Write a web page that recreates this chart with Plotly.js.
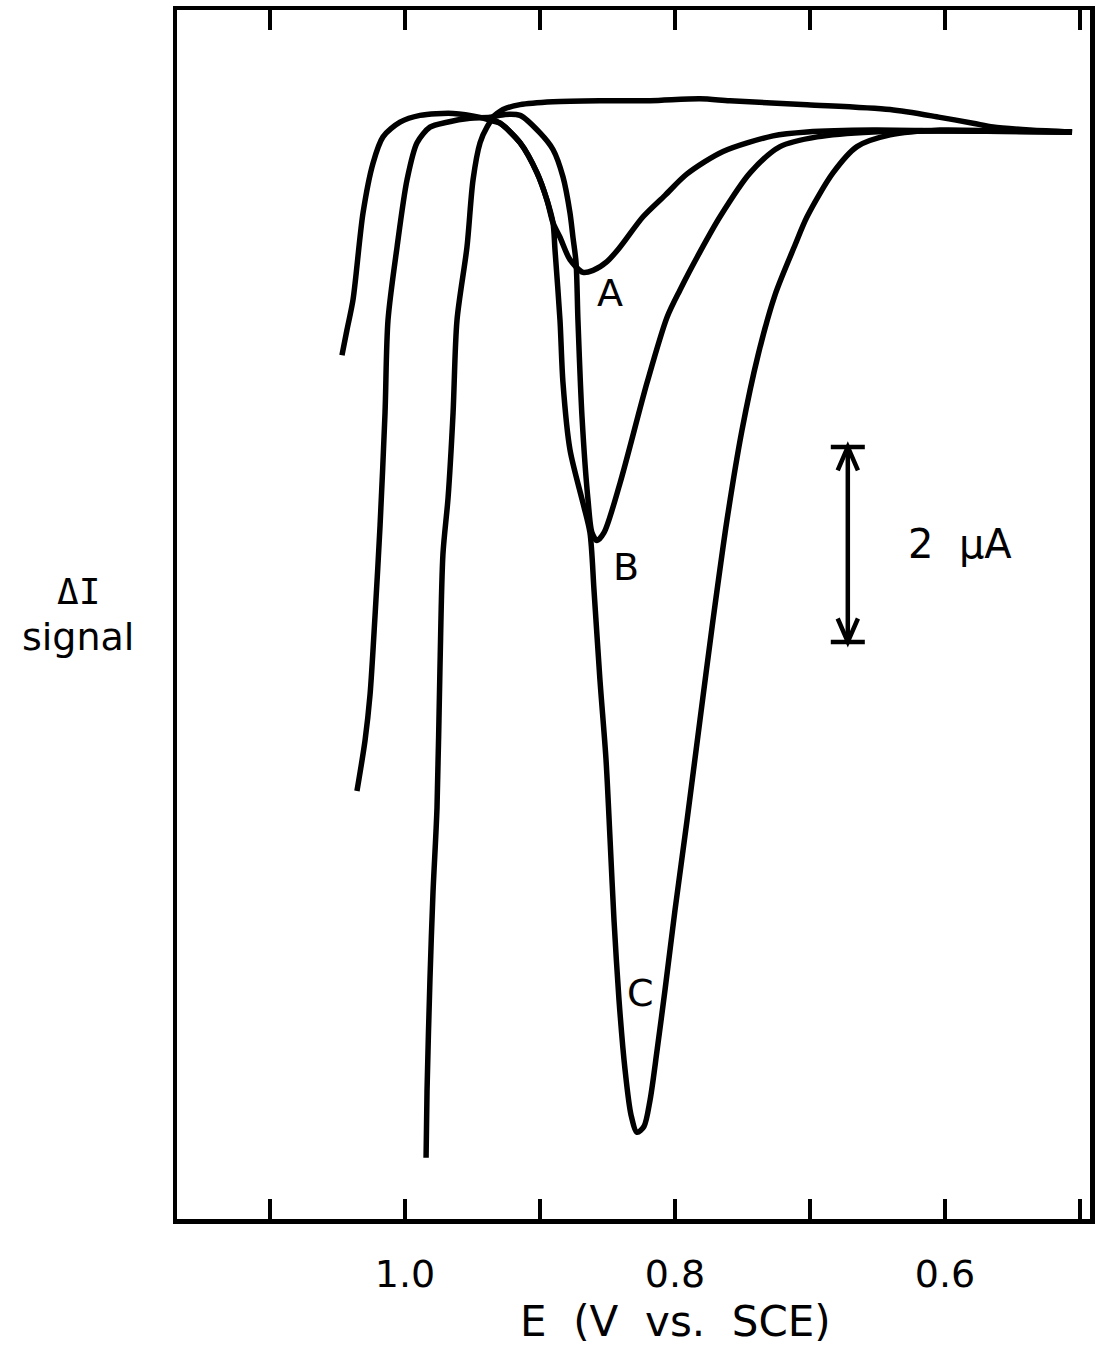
<!DOCTYPE html>
<html>
<head>
<meta charset="utf-8">
<script src="https://cdn.plot.ly/plotly-3.0.1.min.js"></script>
<style>
  html, body { margin: 0; padding: 0; background: #ffffff; }
  #plot { width: 1106px; height: 1349px; }
</style>
</head>
<body>
<div id="plot"></div>
<script>
// Differential pulse voltammograms: potential E (V vs. SCE) against the ΔI signal (µA).

// Curve A
const potentialA = [1.0467, 1.0430, 1.0385, 1.0311, 1.0237, 1.0163, 1.0037, 0.9889, 0.9644, 0.9444,
  0.9370, 0.9296, 0.9148, 0.9022, 0.8948, 0.8904, 0.8852, 0.8778, 0.8681, 0.8607,
  0.8504, 0.8407, 0.8237, 0.8074, 0.7911, 0.7644, 0.7274, 0.7022, 0.6533, 0.5963, 0.5059];
const signalA = [-2.30, -2.04, -1.73, -0.84, -0.33, -0.06, 0.09, 0.16, 0.18, 0.14,
  0.11, 0.08, -0.12, -0.43, -0.71, -0.94, -1.09, -1.32, -1.45, -1.43,
  -1.34, -1.19, -0.88, -0.66, -0.44, -0.21, -0.05, -0.01, 0.01, 0.00, -0.01];

// Curve B
const potentialB = [1.0356, 1.0296, 1.0259, 1.0222, 1.0185, 1.0148, 1.0126, 1.0059, 0.9985, 0.9911,
  0.9815, 0.9689, 0.9519, 0.9370, 0.9259, 0.9148, 0.9000, 0.8904, 0.8830, 0.8778,
  0.8756, 0.8733, 0.8719, 0.8689, 0.8644, 0.8615, 0.8578, 0.8526, 0.8407, 0.8207,
  0.8059, 0.7963, 0.7815, 0.7667, 0.7444, 0.7222, 0.6948, 0.6533, 0.5963, 0.5059];
const signalB = [-6.77, -6.25, -5.78, -4.97, -4.05, -2.89, -1.94, -1.19, -0.50, -0.12,
  0.04, 0.09, 0.13, 0.14, 0.17, 0.16, -0.02, -0.19, -0.47, -0.84,
  -1.09, -1.35, -1.94, -2.93, -3.79, -4.12, -4.20, -4.12, -3.61, -2.58,
  -1.91, -1.63, -1.24, -0.88, -0.43, -0.16, -0.06, -0.01, 0.00, -0.01];

// Curve C
const potentialC = [0.9844, 0.9837, 0.9815, 0.9793, 0.9763, 0.9741, 0.9719, 0.9681, 0.9644, 0.9615,
  0.9541, 0.9496, 0.9444, 0.9393, 0.9356, 0.9296, 0.9148, 0.9022, 0.8948, 0.8904,
  0.8889, 0.8852, 0.8830, 0.8778, 0.8681, 0.8630, 0.8600, 0.8556, 0.8511, 0.8481,
  0.8452, 0.8415, 0.8370, 0.8326, 0.8281, 0.8230, 0.8185, 0.8133, 0.8074, 0.8000,
  0.7911, 0.7815, 0.7719, 0.7615, 0.7504, 0.7385, 0.7259, 0.7111, 0.7022, 0.6830,
  0.6652, 0.6407, 0.6037, 0.5593, 0.5059];
const signalC = [-10.53, -9.85, -8.69, -7.82, -6.94, -5.50, -4.34, -3.76, -2.89, -1.94,
  -1.19, -0.50, -0.12, 0.04, 0.11, 0.08, -0.12, -0.43, -0.71, -0.94,
  -1.22, -1.94, -2.58, -3.27, -3.82, -4.12, -4.71, -5.63, -6.45, -7.27,
  -8.09, -8.91, -9.63, -10.09, -10.27, -10.21, -9.94, -9.43, -8.81, -7.99,
  -7.07, -6.04, -5.02, -3.99, -3.07, -2.30, -1.68, -1.17, -0.88, -0.43,
  -0.16, -0.04, 0.01, 0.00, -0.01];

// Background scan (no peak)
const potentialBlank = [0.9370, 0.9274, 0.9148, 0.8904, 0.8556, 0.8185, 0.7815, 0.7593, 0.7022, 0.6407,
  0.6037, 0.5793, 0.5644, 0.5370, 0.5059];
const signalBlank = [0.12, 0.22, 0.27, 0.30, 0.31, 0.31, 0.33, 0.31, 0.27, 0.22,
  0.14, 0.08, 0.04, 0.01, -0.01];

// Potential axis ticks
const tickValues = [1.1, 1.0, 0.9, 0.8, 0.7, 0.6, 0.5];
const tickLabels = ['', '1.0', '', '0.8', '', '0.6', ''];

// Curve labels and the current scale bar
const curveLabels = ['A', 'B', 'C'];
const scaleBarMicroamps = 2;
const scaleBarLabel = '2\u00a0\u00a0\u03bcA';

const FONT = 'DejaVu Sans, Liberation Sans, sans-serif';
const INK = '#000000';

function curve(x, y) {
  return {
    x: x, y: y, type: 'scatter', mode: 'lines',
    line: { color: INK, width: 5.5, shape: 'spline', smoothing: 0.8 },
    hoverinfo: 'skip', showlegend: false
  };
}

const traces = [
  curve(potentialBlank, signalBlank),
  curve(potentialA, signalA),
  curve(potentialB, signalB),
  curve(potentialC, signalC)
];

// Scale bar geometry (data units)
const barE = 0.672;
const barTop = -3.24;
const barBottom = barTop - scaleBarMicroamps;
const capHalf = 0.0126;
const headHalf = 0.0075;
const headDepth = 0.24;

const barStyle = { color: INK, width: 4.5 };
const shapes = [
  { type: 'line', xref: 'x', yref: 'y', x0: barE, x1: barE, y0: barTop, y1: barBottom, line: barStyle },
  { type: 'line', xref: 'x', yref: 'y', x0: barE + capHalf, x1: barE - capHalf, y0: barTop, y1: barTop, line: barStyle },
  { type: 'line', xref: 'x', yref: 'y', x0: barE + capHalf, x1: barE - capHalf, y0: barBottom, y1: barBottom, line: barStyle },
  { type: 'path', xref: 'x', yref: 'y', line: barStyle,
    path: `M ${barE + headHalf},${barTop - headDepth} L ${barE},${barTop} L ${barE - headHalf},${barTop - headDepth}` },
  { type: 'path', xref: 'x', yref: 'y', line: barStyle,
    path: `M ${barE + headHalf},${barBottom + headDepth} L ${barE},${barBottom} L ${barE - headHalf},${barBottom + headDepth}` }
];

const labelPositions = [
  { x: 0.8481, y: -1.66 },
  { x: 0.8363, y: -4.47 },
  { x: 0.8259, y: -8.84 }
];

const annotations = curveLabels.map((t, i) => ({
  text: t, x: labelPositions[i].x, y: labelPositions[i].y, xref: 'x', yref: 'y',
  showarrow: false, xanchor: 'center', yanchor: 'middle',
  font: { family: FONT, size: 38, color: INK }
}));

annotations.push({
  text: scaleBarLabel, x: 0.5889, y: (barTop + barBottom) / 2, xref: 'x', yref: 'y',
  showarrow: false, xanchor: 'center', yanchor: 'middle',
  font: { family: FONT, size: 40, color: INK }
});

annotations.push({
  text: 'E\u00a0\u00a0(V\u00a0\u00a0vs.\u00a0\u00a0SCE)', x: 0.8, y: -0.0845, xref: 'x', yref: 'paper',
  showarrow: false, xanchor: 'center', yanchor: 'middle',
  font: { family: FONT, size: 42, color: INK }
});

annotations.push({
  text: '\u0394I', x: -0.1084, y: 0.519, xref: 'paper', yref: 'paper',
  showarrow: false, xanchor: 'center', yanchor: 'middle',
  font: { family: 'DejaVu Sans Mono, Liberation Mono, monospace', size: 36, color: INK }
});

annotations.push({
  text: 'signal', x: -0.1084, y: 0.481, xref: 'paper', yref: 'paper',
  showarrow: false, xanchor: 'center', yanchor: 'middle',
  font: { family: FONT, size: 38, color: INK }
});

const layout = {
  width: 1106, height: 1349,
  margin: { l: 177, r: 16, t: 10, b: 130, pad: 0 },
  paper_bgcolor: '#ffffff', plot_bgcolor: '#ffffff',
  showlegend: false,
  xaxis: {
    range: [1.1689, 0.4926],
    tickvals: tickValues, ticktext: tickLabels,
    ticks: 'inside', ticklen: 20, tickwidth: 4, tickcolor: INK,
    showline: true, linewidth: 4.5, linecolor: INK, mirror: 'ticks',
    showgrid: false, zeroline: false,
    ticklabelstandoff: 18,
    tickfont: { family: FONT, size: 38, color: INK }
  },
  yaxis: {
    range: [-11.159, 1.241],
    showticklabels: false, ticks: '',
    showline: true, linewidth: 4.5, linecolor: INK, mirror: true,
    showgrid: false, zeroline: false
  },
  shapes: shapes,
  annotations: annotations
};

Plotly.newPlot('plot', traces, layout, { staticPlot: true, displayModeBar: false });
</script>
</body>
</html>
